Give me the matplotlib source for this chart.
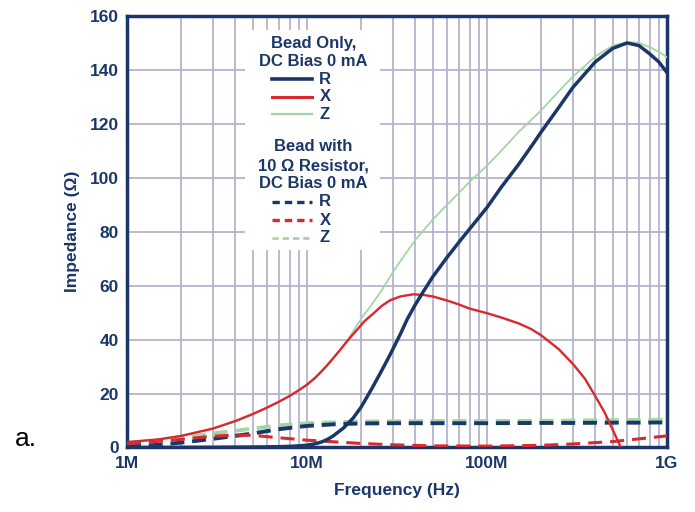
import numpy as np
import matplotlib
matplotlib.use("Agg")
import matplotlib.pyplot as plt
from matplotlib.patches import Rectangle
from matplotlib.lines import Line2D

plt.rcParams['font.family'] = ['Liberation Sans', 'DejaVu Sans']

# ---- data (frequency in MHz, impedance in ohm) ----
freq_r = [1, 2, 3, 5, 7, 8, 9, 10, 11, 12, 13, 14, 16, 18, 20, 23, 26, 29, 33, 36, 40,
          44, 50, 60, 70, 80, 100, 120, 150, 183, 200, 250, 300, 400, 500, 600, 700,
          800, 900, 1000]
r_bead = [0, 0.03, 0.06, 0.15, 0.3, 0.42, 0.6, 0.85, 1.3, 2.0, 3.0, 4.3, 7.3, 10.8,
          15, 22, 28.5, 34.5, 42, 47.5, 53, 57.5, 63.3, 70.5, 76.2, 81, 89, 96.5, 105,
          113.2, 117, 126, 133.5, 143, 148, 150, 149, 146, 143, 139]

freq_x = [1, 1.5, 2, 3, 4, 5, 6, 7, 8, 9, 10, 11, 12, 13, 15, 17, 19, 21, 23.4, 26,
          29, 33, 39, 45, 50, 60, 70, 80, 100, 120, 150, 175, 200, 250, 300, 350, 400,
          450, 500, 550, 600]
x_bead = [2.0, 3.0, 4.3, 7.0, 9.8, 12.4, 14.8, 17.0, 19.1, 21.2, 23.3, 25.6, 28.1,
          30.6, 35.5, 40, 43.7, 47, 49.7, 52.5, 54.6, 56, 56.8, 56.5, 56, 54.5, 53,
          51.5, 49.8, 48.2, 46.0, 44.0, 41.6, 36.5, 31, 25.5, 19, 13, 6.5, 0.5, -5]

freq_z = [1, 1.5, 2, 3, 4, 5, 6, 7, 8, 9, 10, 11, 12, 13, 15, 17, 20, 23, 26, 30, 35,
          40, 50, 60, 70, 80, 100, 120, 150, 200, 250, 300, 400, 500, 600, 700, 800,
          900, 1000]
z_bead = [2.0, 3.0, 4.3, 7.0, 9.8, 12.4, 14.8, 17.0, 19.1, 21.2, 23.3, 25.6, 28.2,
          30.7, 35.6, 40.3, 47.8, 53.2, 58.3, 65, 71.5, 77, 84.5, 90, 94.5, 98.5,
          104.5, 110, 117, 125, 132, 137.5, 145, 149, 150.3, 150, 148.5, 146.7, 144.7]

freq_d = [1, 1.5, 2, 3, 4, 5, 7, 10, 15, 20, 30, 50, 100, 200, 300, 500, 700, 1000]
r_res = [0.3, 1.0, 1.8, 3.2, 4.3, 5.2, 6.8, 8.0, 8.7, 8.9, 9.0, 9.0, 9.0, 9.1, 9.1, 9.2, 9.2, 9.3]
x_res = [1.4, 2.3, 3.0, 4.2, 4.6, 4.5, 3.6, 2.7, 2.0, 1.5, 1.0, 0.6, 0.5, 0.8, 1.3, 2.2, 3.2, 4.3]
z_res = [1.5, 2.6, 3.5, 5.2, 6.2, 7.0, 8.2, 9.0, 9.4, 9.6, 9.7, 9.8, 9.8, 9.9, 10.0, 10.1, 10.2, 10.3]

x_ticks = [1, 10, 100, 1000]
x_tick_labels = ['1M', '10M', '100M', '1G']
y_ticks = [0, 20, 40, 60, 80, 100, 120, 140, 160]

NAVY = '#1b3767'
RED = '#d9282f'
GREEN = '#a3d6a3'
GRID = '#aeaecb'

fig = plt.figure(figsize=(6.95, 5.12), dpi=100)
ax = fig.add_axes([0.1827, 0.126, 0.777, 0.8428])
ax.set_xscale('log')
ax.set_xlim(1, 1000)
ax.set_ylim(0, 160)
ax.set_axisbelow(True)

ax.grid(True, which='both', axis='x', color=GRID, lw=1.2)
ax.grid(True, which='major', axis='y', color=GRID, lw=1.2)
ax.set_xticks(x_ticks)
ax.set_xticklabels(x_tick_labels)
ax.set_yticks(y_ticks)
ax.tick_params(axis='both', which='both', length=0, labelsize=12.5, labelcolor=NAVY, pad=6)
for lab in ax.get_xticklabels() + ax.get_yticklabels():
    lab.set_fontweight('bold')
for s in ax.spines.values():
    s.set_color(NAVY)
    s.set_linewidth(2.5)

# legend background box
ax.add_patch(Rectangle((0.2185, 0.4577), 0.25, 0.51, transform=ax.transAxes,
                       facecolor='white', edgecolor='none', zorder=1))

ax.plot(freq_d, z_res, color=GREEN, lw=2.8, ls=(0, (3.6, 2.0)), zorder=3)
ax.plot(freq_d, r_res, color=NAVY, lw=2.8, ls=(0, (3.6, 2.0)), zorder=3)
ax.plot(freq_d, x_res, color=RED, lw=2.2, ls=(0, (4.6, 2.6)), zorder=3)
ax.plot(freq_z, z_bead, color=GREEN, lw=1.3, zorder=4)
ax.plot(freq_x, x_bead, color=RED, lw=1.7, zorder=5)
ax.plot(freq_r, r_bead, color=NAVY, lw=2.5, zorder=6)

ax.set_xlabel('Frequency (Hz)', fontsize=12.5, fontweight='bold', color=NAVY, labelpad=9)
ax.set_ylabel('Impedance (Ω)', fontsize=12.5, fontweight='bold', color=NAVY, labelpad=7)

# manual legend
tkw = dict(transform=ax.transAxes, ha='center', va='center', fontsize=12,
           fontweight='bold', color=NAVY, zorder=7)
cx = 0.3454
ax.text(cx, 0.9367, 'Bead Only,', **tkw)
ax.text(cx, 0.8941, 'DC Bias 0 mA', **tkw)
ax.text(cx, 0.6964, 'Bead with', **tkw)
ax.text(cx, 0.652, '10 Ω Resistor,', **tkw)
ax.text(cx, 0.611, 'DC Bias 0 mA', **tkw)
hx0, hx1, lx = 0.2685, 0.3426, 0.3667
dl = (0, (2.2, 1.5))
for yy, col, lw, ls, lab in [(0.8533, NAVY, 2.6, '-', 'R'), (0.8130, RED, 2.2, '-', 'X'),
                             (0.7722, GREEN, 1.6, '-', 'Z'), (0.569, NAVY, 2.4, dl, 'R'),
                             (0.527, RED, 2.4, dl, 'X'), (0.4855, GREEN, 2.0, dl, 'Z')]:
    ax.add_line(Line2D([hx0, hx1], [yy, yy], transform=ax.transAxes, color=col, lw=lw,
                       ls=ls, zorder=7))
    ax.text(lx, yy, lab, **tkw)

fig.text(15 / 695, 1 - 439 / 512, 'a.', fontsize=19, color='black', ha='left', va='center')

fig.savefig('out.png', dpi=100)
